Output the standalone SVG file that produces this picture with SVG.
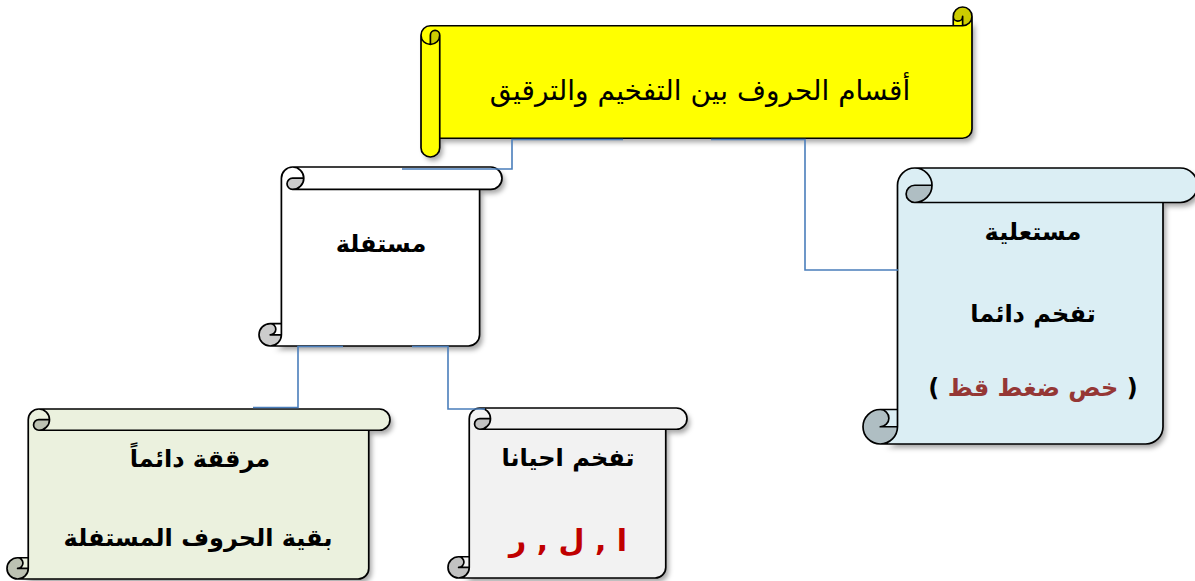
<svg xmlns="http://www.w3.org/2000/svg" width="1195" height="581" viewBox="0 0 1195 581">
<style>
.edge{fill:none;stroke:#4A7EBB;stroke-width:1.6}
.ol{fill:none;stroke:#000;stroke-width:1.7;stroke-linejoin:round}
.t{font-family:'DejaVu Sans',sans-serif;font-weight:bold;font-size:24px;text-anchor:middle;fill:#000}
.red{fill:#C00000;font-size:30px}
.brown{fill:#953735}
.title{font-family:'DejaVu Sans',sans-serif;font-size:28px;text-anchor:middle;fill:#000}
</style>
<defs>
<filter id="sh" x="-10%" y="-10%" width="130%" height="130%">
<feDropShadow dx="3" dy="4" stdDeviation="2.5" flood-color="#000" flood-opacity="0.35"/>
</filter>
</defs>

<g id="title" transform="translate(421,7)">
<path filter="url(#sh)" fill="#FFFF00" d="M551,9.375 A9.375,9.375 0 0 1 541.625,18.75 L541.625,9.375 A4.6875,4.6875 0 0 1 532.25,9.375 L532.25,18.75 L9.375,18.75 A9.375,9.375 0 0 0 0,28.125 L0,140.625 A9.375,9.375 0 0 0 18.75,140.625 L18.75,131.25 L541.625,131.25 A9.375,9.375 0 0 0 551,121.875 Z M9.375,37.5 A9.375,9.375 0 0 0 18.75,28.125 A4.6875,4.6875 0 0 0 9.375,28.125 Z"/>
<path fill="#CCCC00" d="M9.375,37.5 A9.375,9.375 0 0 0 18.75,28.125 A4.6875,4.6875 0 0 0 9.375,28.125 Z M541.625,18.75 A9.375,9.375 0 1 0 532.25,9.375 A4.6875,4.6875 0 0 0 541.625,9.375 Z"/>
<path class="ol" d="M0,28.125 A9.375,9.375 0 0 1 9.375,18.75 L532.25,18.75 L532.25,9.375 A9.375,9.375 0 0 1 551,9.375 L551,121.875 A9.375,9.375 0 0 1 541.625,131.25 L18.75,131.25 L18.75,140.625 A9.375,9.375 0 0 1 0,140.625 Z M532.25,18.75 L541.625,18.75 A9.375,9.375 0 0 0 551,9.375 M541.625,18.75 L541.625,9.375 A4.6875,4.6875 0 0 1 532.25,9.375 M9.375,37.5 L9.375,28.125 A4.6875,4.6875 0 0 1 18.75,28.125 A9.375,9.375 0 0 1 0,28.125 M18.75,28.125 L18.75,131.25"/>
<text class="title" x="279" y="93">أقسام الحروف بين التفخيم والترقيق</text>
</g>

<g id="mustafila" transform="translate(259,167)">
<path filter="url(#sh)" fill="#FFFFFF" d="M11.2,179 A11.2,11.2 0 0 0 22.4,167.8 L11.2,167.8 A5.6,5.6 0 0 1 11.2,156.6 L22.4,156.6 L22.4,11.2 A11.2,11.2 0 0 1 33.6,0 L231.8,0 A11.2,11.2 0 0 1 231.8,22.4 L220.6,22.4 L220.6,167.8 A11.2,11.2 0 0 1 209.4,179 Z M44.8,11.2 A11.2,11.2 0 0 1 33.6,22.4 A5.6,5.6 0 0 1 33.6,11.2 Z"/>
<path fill="#CCCCCC" d="M44.8,11.2 A11.2,11.2 0 0 1 33.6,22.4 A5.6,5.6 0 0 1 33.6,11.2 Z M22.4,167.8 A11.2,11.2 0 1 1 11.2,156.6 A5.6,5.6 0 0 1 11.2,167.8 Z"/>
<path class="ol" d="M22.4,156.6 L22.4,11.2 A11.2,11.2 0 0 1 33.6,0 L231.8,0 A11.2,11.2 0 0 1 231.8,22.4 L220.6,22.4 L220.6,167.8 A11.2,11.2 0 0 1 209.4,179 L11.2,179 A11.2,11.2 0 0 1 11.2,156.6 Z M33.6,0 A11.2,11.2 0 0 1 33.6,22.4 A5.6,5.6 0 0 1 33.6,11.2 L44.8,11.2 M220.6,22.4 L33.6,22.4 M11.2,156.6 A5.6,5.6 0 0 1 11.2,167.8 L22.4,167.8 M11.2,179 A11.2,11.2 0 0 0 22.4,167.8 L22.4,156.6"/>
<text class="t" x="122" y="85">مستفلة</text>
</g>

<g id="mustaliya" transform="translate(863,168)">
<path filter="url(#sh)" fill="#DBEEF4" d="M17.25,276 A17.25,17.25 0 0 0 34.5,258.75 L17.25,258.75 A8.625,8.625 0 0 1 17.25,241.5 L34.5,241.5 L34.5,17.25 A17.25,17.25 0 0 1 51.75,0 L317.25,0 A17.25,17.25 0 0 1 317.25,34.5 L300,34.5 L300,258.75 A17.25,17.25 0 0 1 282.75,276 Z M69,17.25 A17.25,17.25 0 0 1 51.75,34.5 A8.625,8.625 0 0 1 51.75,17.25 Z"/>
<path fill="#AFBEC3" d="M69,17.25 A17.25,17.25 0 0 1 51.75,34.5 A8.625,8.625 0 0 1 51.75,17.25 Z M34.5,258.75 A17.25,17.25 0 1 1 17.25,241.5 A8.625,8.625 0 0 1 17.25,258.75 Z"/>
<path class="ol" d="M34.5,241.5 L34.5,17.25 A17.25,17.25 0 0 1 51.75,0 L317.25,0 A17.25,17.25 0 0 1 317.25,34.5 L300,34.5 L300,258.75 A17.25,17.25 0 0 1 282.75,276 L17.25,276 A17.25,17.25 0 0 1 17.25,241.5 Z M51.75,0 A17.25,17.25 0 0 1 51.75,34.5 A8.625,8.625 0 0 1 51.75,17.25 L69,17.25 M300,34.5 L51.75,34.5 M17.25,241.5 A8.625,8.625 0 0 1 17.25,258.75 L34.5,258.75 M17.25,276 A17.25,17.25 0 0 0 34.5,258.75 L34.5,241.5"/>
<text class="t" x="170" y="72">مستعلية</text>
<text class="t" x="170" y="154">تفخم دائما</text>
<text class="t" x="170" y="228">( <tspan class="brown">خص ضغط قظ</tspan> )</text>
</g>

<g id="muraqqaqa" transform="translate(7,409)">
<path filter="url(#sh)" fill="#EBF1DE" d="M10.625,170 A10.625,10.625 0 0 0 21.25,159.375 L10.625,159.375 A5.3125,5.3125 0 0 1 10.625,148.75 L21.25,148.75 L21.25,10.625 A10.625,10.625 0 0 1 31.875,0 L372.375,0 A10.625,10.625 0 0 1 372.375,21.25 L361.75,21.25 L361.75,159.375 A10.625,10.625 0 0 1 351.125,170 Z M42.5,10.625 A10.625,10.625 0 0 1 31.875,21.25 A5.3125,5.3125 0 0 1 31.875,10.625 Z"/>
<path fill="#BCC1B2" d="M42.5,10.625 A10.625,10.625 0 0 1 31.875,21.25 A5.3125,5.3125 0 0 1 31.875,10.625 Z M21.25,159.375 A10.625,10.625 0 1 1 10.625,148.75 A5.3125,5.3125 0 0 1 10.625,159.375 Z"/>
<path class="ol" d="M21.25,148.75 L21.25,10.625 A10.625,10.625 0 0 1 31.875,0 L372.375,0 A10.625,10.625 0 0 1 372.375,21.25 L361.75,21.25 L361.75,159.375 A10.625,10.625 0 0 1 351.125,170 L10.625,170 A10.625,10.625 0 0 1 10.625,148.75 Z M31.875,0 A10.625,10.625 0 0 1 31.875,21.25 A5.3125,5.3125 0 0 1 31.875,10.625 L42.5,10.625 M361.75,21.25 L31.875,21.25 M10.625,148.75 A5.3125,5.3125 0 0 1 10.625,159.375 L21.25,159.375 M10.625,170 A10.625,10.625 0 0 0 21.25,159.375 L21.25,148.75"/>
<text class="t" x="193" y="58">مرققة دائماً</text>
<text class="t" x="191" y="137">بقية الحروف المستفلة</text>
</g>

<g id="tufakhkham" transform="translate(448,408)">
<path filter="url(#sh)" fill="#F2F2F2" d="M10.625,170 A10.625,10.625 0 0 0 21.25,159.375 L10.625,159.375 A5.3125,5.3125 0 0 1 10.625,148.75 L21.25,148.75 L21.25,10.625 A10.625,10.625 0 0 1 31.875,0 L228.375,0 A10.625,10.625 0 0 1 228.375,21.25 L217.75,21.25 L217.75,159.375 A10.625,10.625 0 0 1 207.125,170 Z M42.5,10.625 A10.625,10.625 0 0 1 31.875,21.25 A5.3125,5.3125 0 0 1 31.875,10.625 Z"/>
<path fill="#C2C2C2" d="M42.5,10.625 A10.625,10.625 0 0 1 31.875,21.25 A5.3125,5.3125 0 0 1 31.875,10.625 Z M21.25,159.375 A10.625,10.625 0 1 1 10.625,148.75 A5.3125,5.3125 0 0 1 10.625,159.375 Z"/>
<path class="ol" d="M21.25,148.75 L21.25,10.625 A10.625,10.625 0 0 1 31.875,0 L228.375,0 A10.625,10.625 0 0 1 228.375,21.25 L217.75,21.25 L217.75,159.375 A10.625,10.625 0 0 1 207.125,170 L10.625,170 A10.625,10.625 0 0 1 10.625,148.75 Z M31.875,0 A10.625,10.625 0 0 1 31.875,21.25 A5.3125,5.3125 0 0 1 31.875,10.625 L42.5,10.625 M217.75,21.25 L31.875,21.25 M10.625,148.75 A5.3125,5.3125 0 0 1 10.625,159.375 L21.25,159.375 M10.625,170 A10.625,10.625 0 0 0 21.25,159.375 L21.25,148.75"/>
<text class="t" x="120" y="58">تفخم احيانا</text>
<text class="t red" x="120" y="143">ا , ل , ر</text>
</g>

<g id="connectors">
<path class="edge" d="M623,139.5 H512 V169 H402"/>
<path class="edge" d="M711,139.5 H805 V270 H898"/>
<path class="edge" d="M343,346.5 H298 V407.5 H253"/>
<path class="edge" d="M412,346.5 H448 V409 H485"/>
</g>
</svg>
